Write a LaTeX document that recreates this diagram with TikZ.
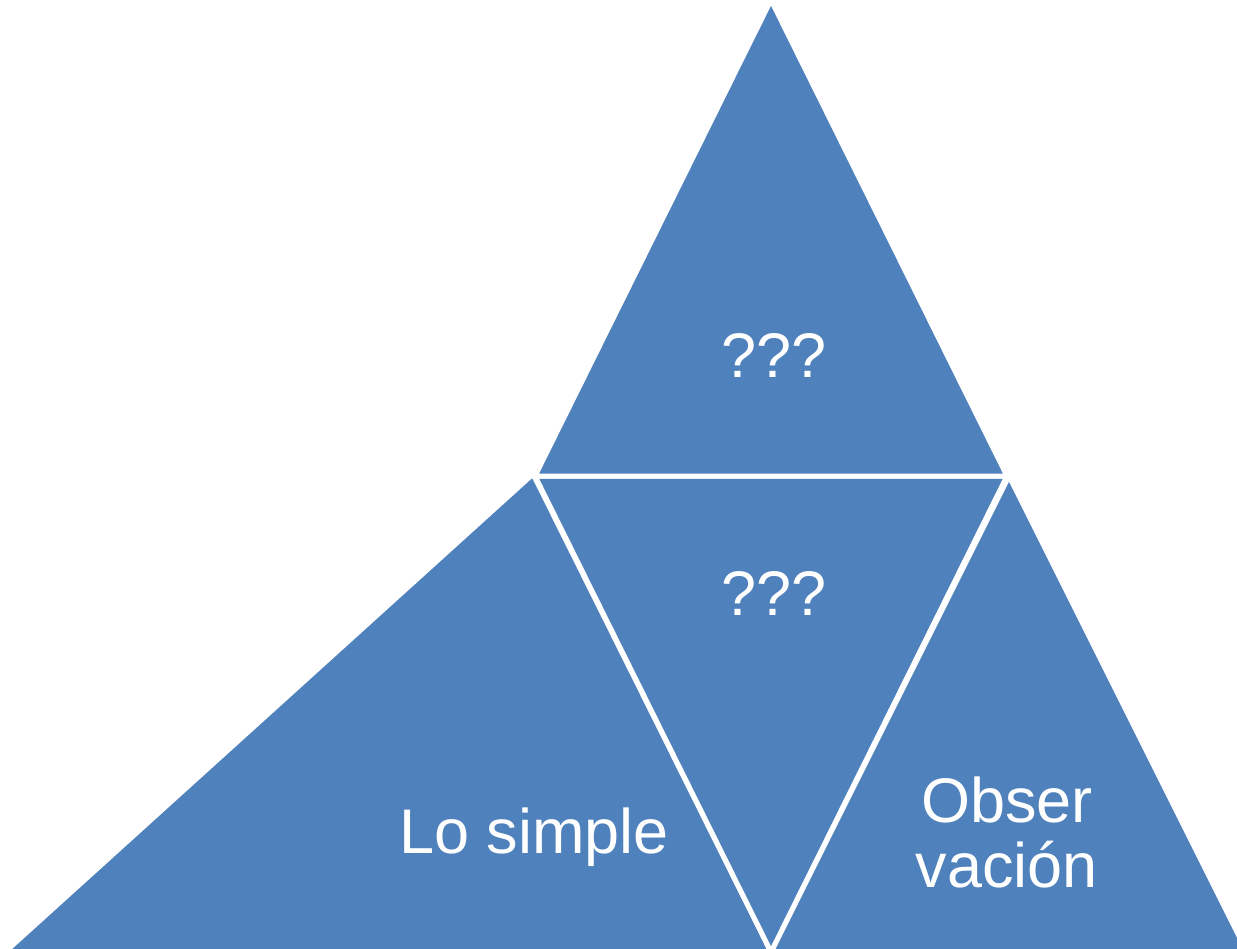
\documentclass[tikz,border=0pt]{standalone}
\usepackage{fontspec}
\setmainfont{Liberation Sans}
\definecolor{tribleu}{HTML}{4F81BD}
\tikzset{
  tri/.style={fill=tribleu, draw=white, line width=5pt, line join=miter},
  lbl/.style={text=white, inner sep=0pt, anchor=base, font=\fontsize{63}{65}\selectfont}
}
\begin{document}
\begin{tikzpicture}[x=1pt,y=-1pt]
\useasboundingbox (0,0) rectangle (1237,949);
\clip (0,0) rectangle (1237,949);
% lower corners
\draw[tri] (533,474) -- (5,952) -- (771,952) -- cycle;
\draw[tri] (1009,476) -- (771,952) -- (1247,952) -- cycle;
% middle, upside down
\draw[tri] (535,476) -- (1007,476) -- (771,952) -- cycle;
% top
\draw[tri] (771,0) -- (535,476) -- (1007,476) -- cycle;
% texts
\node[lbl] (top) at (774,378) {???};
\node[lbl] (mid) at (774,615) {???};
\node[lbl] (simple) at (534,853) {Lo simple};
\node[lbl, align=center] (obs) at (1007,887) {Obser\\vación};
\end{tikzpicture}
\end{document}
